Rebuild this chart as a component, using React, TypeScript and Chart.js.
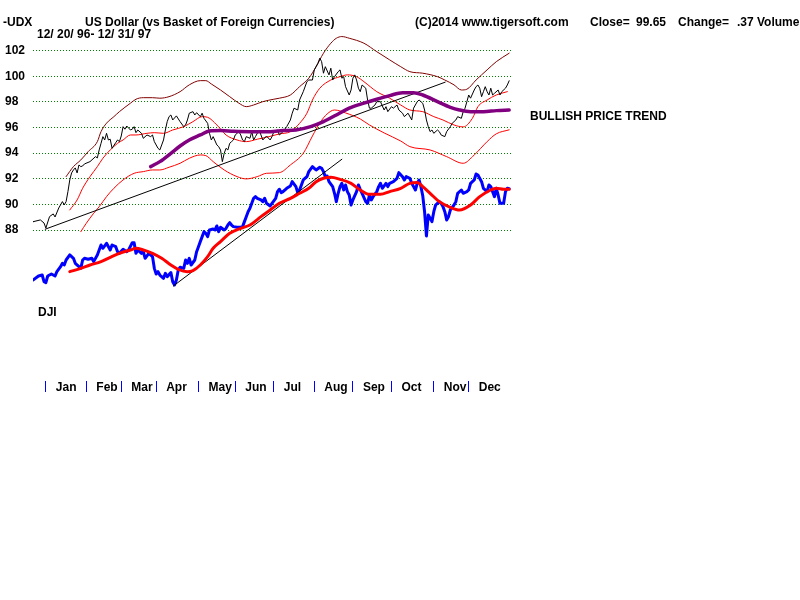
import React, { useEffect, useRef } from 'react';
import { Chart, registerables } from 'chart.js';

Chart.register(...registerables);

const FONT = '"Liberation Sans", Arial, Helvetica, sans-serif';

// ---- text ----
const symbolText = '-UDX';
const titleText = 'US Dollar (vs Basket of Foreign Currencies)';
const dateRangeText = '12/ 20/ 96- 12/ 31/ 97';
const copyrightText = '(C)2014 www.tigersoft.com';
const closeValue = '99.65';
const changeValue = '.37';
const trendText = 'BULLISH PRICE TREND';
const lowerPanelText = 'DJI';

// ---- axes ----
const monthTickDays = [7, 29, 48, 67, 90, 110, 131, 153, 174, 195, 218, 237];
const monthLabels = ['Jan', 'Feb', 'Mar', 'Apr', 'May', 'Jun', 'Jul', 'Aug', 'Sep', 'Oct', 'Nov', 'Dec'];
const yTickValues = [88, 90, 92, 94, 96, 98, 100, 102];

// ---- UDX close (trading-day index, value) ----
const udxDay = [0, 4, 6, 7, 9, 11, 12, 14, 16, 17, 18, 19, 20, 21, 22, 23, 24, 25, 26, 27, 28, 31, 34, 35, 36, 37, 38, 39, 40, 41, 42, 43, 45, 46, 47, 48, 49, 50, 51, 53, 54, 55, 56, 57, 59, 60, 62, 64, 65, 66, 68, 69, 70, 71, 72, 73, 74, 75, 76, 78, 80, 82, 83, 84, 85, 87, 88, 89, 91, 92, 93, 95, 96, 97, 98, 100, 101, 102, 103, 104, 105, 106, 107, 108, 109, 110, 112, 113, 114, 115, 116, 118, 119, 120, 121, 123, 124, 125, 127, 129, 130, 131, 133, 134, 136, 138, 140, 141, 142, 144, 145, 147, 149, 150, 152, 153, 155, 156, 157, 158, 159, 161, 162, 163, 164, 166, 167, 168, 169, 170, 172, 173, 174, 175, 176, 177, 178, 179, 181, 182, 183, 184, 186, 187, 189, 191, 192, 193, 195, 196, 198, 199, 201, 202, 204, 206, 207, 209, 210, 212, 213, 214, 215, 216, 217, 218, 220, 221, 222, 224, 225, 227, 228, 230, 231, 233, 234, 235, 236, 237, 238, 240, 241, 242, 243, 244, 245, 246, 247, 248, 249, 250, 251, 253, 254, 255, 257, 258, 259];
const udxClose = [88.65, 88.79, 88.55, 88.16, 89.05, 89.26, 89.02, 89.72, 90.22, 89.96, 90.22, 91.0, 91.91, 92.46, 92.69, 92.85, 92.46, 93.08, 92.95, 93.0, 93.16, 93.34, 93.73, 93.63, 94.25, 94.77, 95.29, 95.03, 95.55, 95.03, 95.09, 94.38, 94.82, 95.03, 94.9, 95.34, 96.07, 95.87, 96.12, 95.81, 95.87, 96.07, 95.6, 95.81, 95.55, 95.16, 95.42, 95.29, 95.42, 94.9, 94.38, 94.25, 94.64, 95.03, 95.81, 96.46, 96.85, 96.98, 96.59, 96.91, 96.46, 96.07, 96.2, 96.59, 97.12, 97.24, 96.98, 97.16, 96.85, 97.12, 96.72, 96.33, 95.55, 95.03, 95.29, 94.64, 94.51, 94.25, 93.34, 93.99, 94.38, 94.25, 94.77, 94.9, 95.03, 95.42, 95.68, 95.42, 95.03, 94.9, 95.29, 95.16, 95.68, 95.03, 95.29, 95.81, 95.42, 95.03, 95.34, 95.03, 95.29, 95.68, 95.81, 95.42, 95.68, 96.07, 96.59, 97.12, 97.51, 97.37, 98.15, 98.8, 99.58, 99.71, 99.71, 100.5, 101.02, 101.41, 101.14, 100.24, 100.75, 100.11, 100.63, 99.71, 99.97, 100.36, 100.5, 99.85, 99.97, 99.19, 98.54, 98.93, 99.85, 100.11, 99.71, 99.07, 98.8, 99.32, 99.07, 98.15, 97.51, 97.51, 97.76, 98.02, 98.02, 97.37, 97.63, 97.24, 97.63, 97.51, 97.76, 97.37, 97.12, 96.85, 97.12, 96.59, 97.51, 98.02, 98.15, 97.89, 97.37, 96.59, 96.07, 95.68, 95.81, 95.55, 95.81, 95.68, 95.42, 95.29, 95.68, 96.07, 96.33, 96.59, 96.85, 96.72, 97.24, 97.51, 98.02, 98.54, 98.29, 98.93, 99.19, 99.32, 99.07, 98.41, 98.8, 99.19, 98.8, 98.54, 99.07, 98.54, 98.67, 98.93, 98.54, 98.8, 99.07, 99.32, 99.65];

// ---- UDX bands ----
const upperDay = [18, 22, 26, 30, 35, 37, 40, 44, 47, 53, 56, 60, 65, 69, 74, 80, 85, 91, 94, 97, 102, 107, 112, 116, 120, 125, 131, 134, 140, 145, 150, 154, 158, 162, 165, 168, 172, 180, 187, 194, 200, 205, 212, 220, 224, 229, 233, 236, 241, 247, 252, 259];
const upperVal = [92.17, 92.95, 93.47, 94.12, 94.9, 95.68, 96.34, 96.85, 97.24, 97.9, 98.21, 98.33, 98.33, 98.29, 98.41, 98.8, 99.33, 99.66, 99.66, 99.4, 98.93, 98.41, 97.9, 97.63, 97.76, 98.02, 98.21, 98.29, 98.54, 99.19, 99.85, 100.75, 101.8, 102.58, 102.97, 103.1, 102.97, 102.58, 101.92, 101.28, 100.75, 100.36, 100.24, 99.97, 99.71, 99.33, 98.93, 98.99, 99.71, 100.5, 101.14, 101.8];

const midDay = [20, 24, 27, 31, 35, 38, 42, 46, 49, 53, 56, 62, 66, 71, 76, 82, 87, 92, 95, 100, 105, 111, 116, 122, 127, 134, 140, 145, 149, 152, 156, 162, 167, 171, 176, 180, 187, 194, 200, 205, 212, 218, 223, 229, 234, 239, 242, 247, 252, 258];
const midVal = [89.57, 90.35, 91.26, 92.17, 92.95, 93.6, 94.25, 94.77, 95.03, 95.42, 95.42, 95.55, 95.6, 95.55, 95.81, 96.07, 96.46, 96.85, 96.8, 96.2, 95.42, 95.03, 94.9, 95.09, 95.24, 95.5, 95.68, 96.33, 97.12, 98.15, 99.07, 99.71, 99.97, 100.11, 99.97, 99.58, 98.8, 98.29, 97.76, 97.37, 97.24, 96.85, 96.59, 96.2, 96.05, 96.72, 97.63, 98.15, 98.54, 98.8];

const lowDay = [26, 29, 33, 36, 40, 44, 49, 55, 60, 65, 69, 74, 80, 85, 91, 94, 98, 104, 111, 116, 122, 127, 134, 140, 147, 152, 156, 160, 164, 170, 178, 183, 191, 200, 205, 216, 225, 234, 240, 247, 252, 259];
const lowVal = [87.87, 88.53, 89.31, 89.82, 90.61, 91.26, 91.91, 92.43, 92.56, 92.69, 92.69, 92.9, 93.21, 93.6, 93.86, 93.81, 93.34, 92.69, 92.17, 91.99, 92.17, 92.43, 92.48, 93.08, 93.99, 95.34, 96.36, 97.06, 97.37, 97.14, 96.67, 96.2, 95.58, 94.95, 94.51, 94.25, 93.73, 93.21, 93.86, 94.9, 95.51, 95.82];

// ---- UDX long moving average (purple) ----
const maDay = [64, 69, 75, 80, 85, 91, 96, 102, 109, 118, 129, 136, 143, 151, 158, 165, 172, 180, 187, 194, 201, 207, 212, 220, 227, 232, 238, 245, 252, 259];
const maVal = [92.95, 93.34, 93.99, 94.56, 95.03, 95.42, 95.73, 95.76, 95.71, 95.68, 95.68, 95.76, 95.81, 96.07, 96.46, 96.98, 97.51, 97.9, 98.21, 98.49, 98.72, 98.72, 98.54, 98.02, 97.58, 97.37, 97.24, 97.24, 97.32, 97.37];

// ---- trendlines ----
const udxTrendDay = [6.5, 224.2];
const udxTrendVal = [88.06, 99.54];
const djiTrendDay = [76.3, 168];
const djiTrendVal = [6405, 8364];

// ---- DJI close ----
const djiDay = [0, 3, 5, 6, 7, 8, 10, 12, 13, 15, 16, 17, 18, 20, 22, 23, 25, 26, 27, 28, 30, 32, 33, 35, 36, 37, 38, 40, 42, 43, 45, 46, 47, 49, 51, 52, 54, 55, 56, 57, 59, 60, 61, 63, 65, 66, 67, 68, 69, 71, 72, 73, 75, 76, 77, 78, 79, 80, 82, 83, 84, 85, 86, 88, 89, 90, 91, 93, 94, 95, 96, 98, 99, 100, 101, 102, 104, 105, 106, 107, 108, 109, 111, 113, 114, 115, 116, 117, 118, 119, 120, 121, 122, 124, 125, 126, 127, 129, 130, 132, 133, 134, 135, 136, 138, 140, 141, 143, 144, 145, 146, 147, 149, 150, 152, 153, 154, 156, 157, 158, 159, 160, 161, 163, 164, 165, 166, 167, 168, 169, 170, 171, 172, 173, 174, 176, 177, 178, 179, 181, 182, 183, 184, 185, 187, 188, 189, 190, 192, 193, 194, 196, 198, 199, 201, 202, 203, 205, 206, 207, 208, 209, 210, 211, 212, 213, 214, 215, 216, 217, 218, 219, 220, 221, 222, 223, 224, 225, 226, 227, 229, 230, 231, 233, 234, 236, 237, 238, 240, 241, 242, 244, 245, 247, 248, 249, 251, 252, 253, 254, 256, 257, 258, 259];
const djiClose = [6498, 6560, 6575, 6472, 6457, 6560, 6591, 6560, 6627, 6704, 6756, 6730, 6807, 6885, 6833, 6756, 6704, 6678, 6807, 6833, 6818, 6833, 6782, 6885, 6962, 7039, 6988, 7065, 6962, 7039, 7013, 6936, 6910, 6972, 6936, 6962, 7075, 7075, 6910, 6962, 6910, 6936, 6833, 6910, 6859, 6678, 6591, 6627, 6575, 6524, 6601, 6550, 6612, 6472, 6421, 6498, 6653, 6694, 6678, 6807, 6756, 6833, 6730, 6807, 6936, 7013, 7091, 7245, 7220, 7168, 7271, 7286, 7271, 7333, 7245, 7312, 7271, 7297, 7348, 7384, 7348, 7323, 7312, 7312, 7323, 7400, 7477, 7554, 7606, 7683, 7760, 7786, 7760, 7735, 7709, 7760, 7683, 7642, 7683, 7760, 7864, 7900, 7848, 7864, 7915, 7951, 8018, 7941, 7848, 7889, 7967, 8044, 8095, 8173, 8250, 8224, 8198, 8240, 8224, 8173, 8095, 8106, 8018, 7941, 7838, 7709, 7838, 7941, 7992, 7889, 7967, 7864, 7812, 7657, 7735, 7864, 7967, 7900, 7838, 7709, 7683, 7812, 7735, 7786, 7864, 7941, 7992, 7915, 7992, 7941, 7992, 8018, 8070, 8157, 8095, 8044, 8095, 8070, 7992, 7941, 7889, 7992, 8044, 7941, 7800, 7550, 7178, 7503, 7451, 7400, 7554, 7657, 7683, 7709, 7683, 7632, 7554, 7426, 7477, 7580, 7657, 7709, 7838, 7889, 7838, 7864, 7889, 7992, 8044, 8137, 8121, 8018, 7915, 7864, 7967, 7941, 7786, 7915, 7812, 7683, 7683, 7864, 7915, 7908];

// ---- DJI moving average ----
const djiMaDay = [20, 26, 31, 37, 42, 47, 53, 56, 60, 65, 70, 75, 79, 84, 87, 91, 95, 98, 102, 107, 113, 118, 124, 129, 134, 140, 145, 150, 154, 158, 162, 167, 173, 178, 183, 189, 194, 200, 205, 209, 212, 216, 221, 227, 232, 238, 243, 249, 252, 256, 259];
const djiMaVal = [6627, 6678, 6730, 6782, 6849, 6910, 6962, 6988, 6962, 6910, 6833, 6730, 6663, 6627, 6643, 6730, 6859, 6988, 7091, 7220, 7297, 7348, 7477, 7580, 7683, 7760, 7838, 7915, 8018, 8070, 8085, 8054, 7992, 7889, 7822, 7822, 7864, 7915, 7992, 8003, 7941, 7838, 7709, 7621, 7580, 7657, 7786, 7889, 7915, 7900, 7900];

const pts = (xs: number[], ys: number[]) => xs.map((x, i) => ({ x, y: ys[i] }));

const textPlugin = {
  id: 'tigerTexts',
  afterDraw(chart: any) {
    const ctx = chart.ctx as CanvasRenderingContext2D;
    ctx.save();
    ctx.fillStyle = '#000000';
    ctx.font = `bold 12px ${FONT}`;
    ctx.textAlign = 'left';
    ctx.textBaseline = 'alphabetic';
    ctx.fillText(symbolText, 3, 26);
    ctx.fillText(titleText, 85, 26);
    ctx.fillText(dateRangeText, 37, 38);
    ctx.fillText(copyrightText, 415, 26);
    ctx.fillText('Close=', 590, 26);
    ctx.fillText(closeValue, 636, 26);
    ctx.fillText('Change=', 678, 26);
    ctx.fillText(changeValue, 737, 26);
    ctx.fillText('Volume=', 757, 26);
    ctx.fillText(trendText, 530, 120);
    ctx.fillText(lowerPanelText, 38, 316);
    ctx.restore();
  },
};

export default function App() {
  const ref = useRef<HTMLCanvasElement | null>(null);

  useEffect(() => {
    if (!ref.current) return;
    const line = (data: any, color: string, width: number, axis: string, smooth: boolean, order: number) => ({
      data,
      borderColor: color,
      backgroundColor: color,
      borderWidth: width,
      pointRadius: 0,
      pointHoverRadius: 0,
      fill: false,
      tension: smooth ? 0.4 : 0,
      cubicInterpolationMode: smooth ? 'monotone' : 'default',
      borderJoinStyle: 'round',
      borderCapStyle: 'round',
      yAxisID: axis,
      order,
    });

    const chart = new Chart(ref.current, {
      type: 'line',
      data: {
        datasets: [
          line(pts(maDay, maVal), '#800080', 3.5, 'y', true, 0),
          line(pts(udxTrendDay, udxTrendVal), '#000000', 1, 'y', false, 1),
          line(pts(udxDay, udxClose), '#000000', 1, 'y', false, 2),
          line(pts(upperDay, upperVal), '#800000', 1, 'y', true, 3),
          line(pts(midDay, midVal), '#FF0000', 1, 'y', true, 4),
          line(pts(lowDay, lowVal), '#FF0000', 1, 'y', true, 5),
          line(pts(djiMaDay, djiMaVal), '#FF0000', 3, 'y2', true, 6),
          line(pts(djiTrendDay, djiTrendVal), '#000000', 1, 'y2', false, 7),
          line(pts(djiDay, djiClose), '#0000FF', 3, 'y2', false, 8),
        ] as any,
      },
      options: {
        responsive: false,
        animation: false,
        devicePixelRatio: 1,
        events: [],
        layout: { padding: { left: 5, top: 34, right: 289, bottom: 189 } },
        plugins: { legend: { display: false }, tooltip: { enabled: false }, title: { display: false } },
        scales: {
          x: {
            type: 'linear',
            min: 0,
            max: 260,
            position: 'bottom',
            afterBuildTicks: (s: any) => {
              s.ticks = monthTickDays.map((v) => ({ value: v }));
            },
            afterFit: (s: any) => {
              s.height = 30;
            },
            grid: {
              display: true,
              drawOnChartArea: false,
              drawTicks: true,
              tickLength: 11,
              tickColor: '#0000FF',
              tickWidth: 1,
            },
            border: { display: false },
            ticks: {
              autoSkip: false,
              maxRotation: 0,
              minRotation: 0,
              align: 'start',
              labelOffset: 10,
              padding: -12,
              color: '#000000',
              font: { family: FONT, size: 12, weight: 'bold' },
              callback: (_v: any, i: number) => monthLabels[i],
            },
          },
          y: {
            type: 'linear',
            position: 'left',
            min: 76.22,
            max: 103.3,
            afterBuildTicks: (s: any) => {
              s.ticks = yTickValues.map((v) => ({ value: v }));
            },
            afterFit: (s: any) => {
              s.width = 28;
            },
            grid: {
              color: '#008000',
              lineWidth: 1,
              drawTicks: false,
            },
            border: { display: false, dash: [1, 2] },
            ticks: {
              crossAlign: 'far',
              color: '#000000',
              font: { family: FONT, size: 12, weight: 'bold' },
              callback: (v: any) => String(v),
            },
          },
          y2: {
            type: 'linear',
            position: 'right',
            display: false,
            min: 4937,
            max: 10300,
          },
        },
      } as any,
      plugins: [textPlugin],
    });
    return () => chart.destroy();
  }, []);

  return (
    <div style={{ position: 'absolute', left: 0, top: 0, width: 800, height: 600, background: '#ffffff' }}>
      <canvas ref={ref} width={800} height={600} style={{ display: 'block', width: 800, height: 600 }} />
    </div>
  );
}
